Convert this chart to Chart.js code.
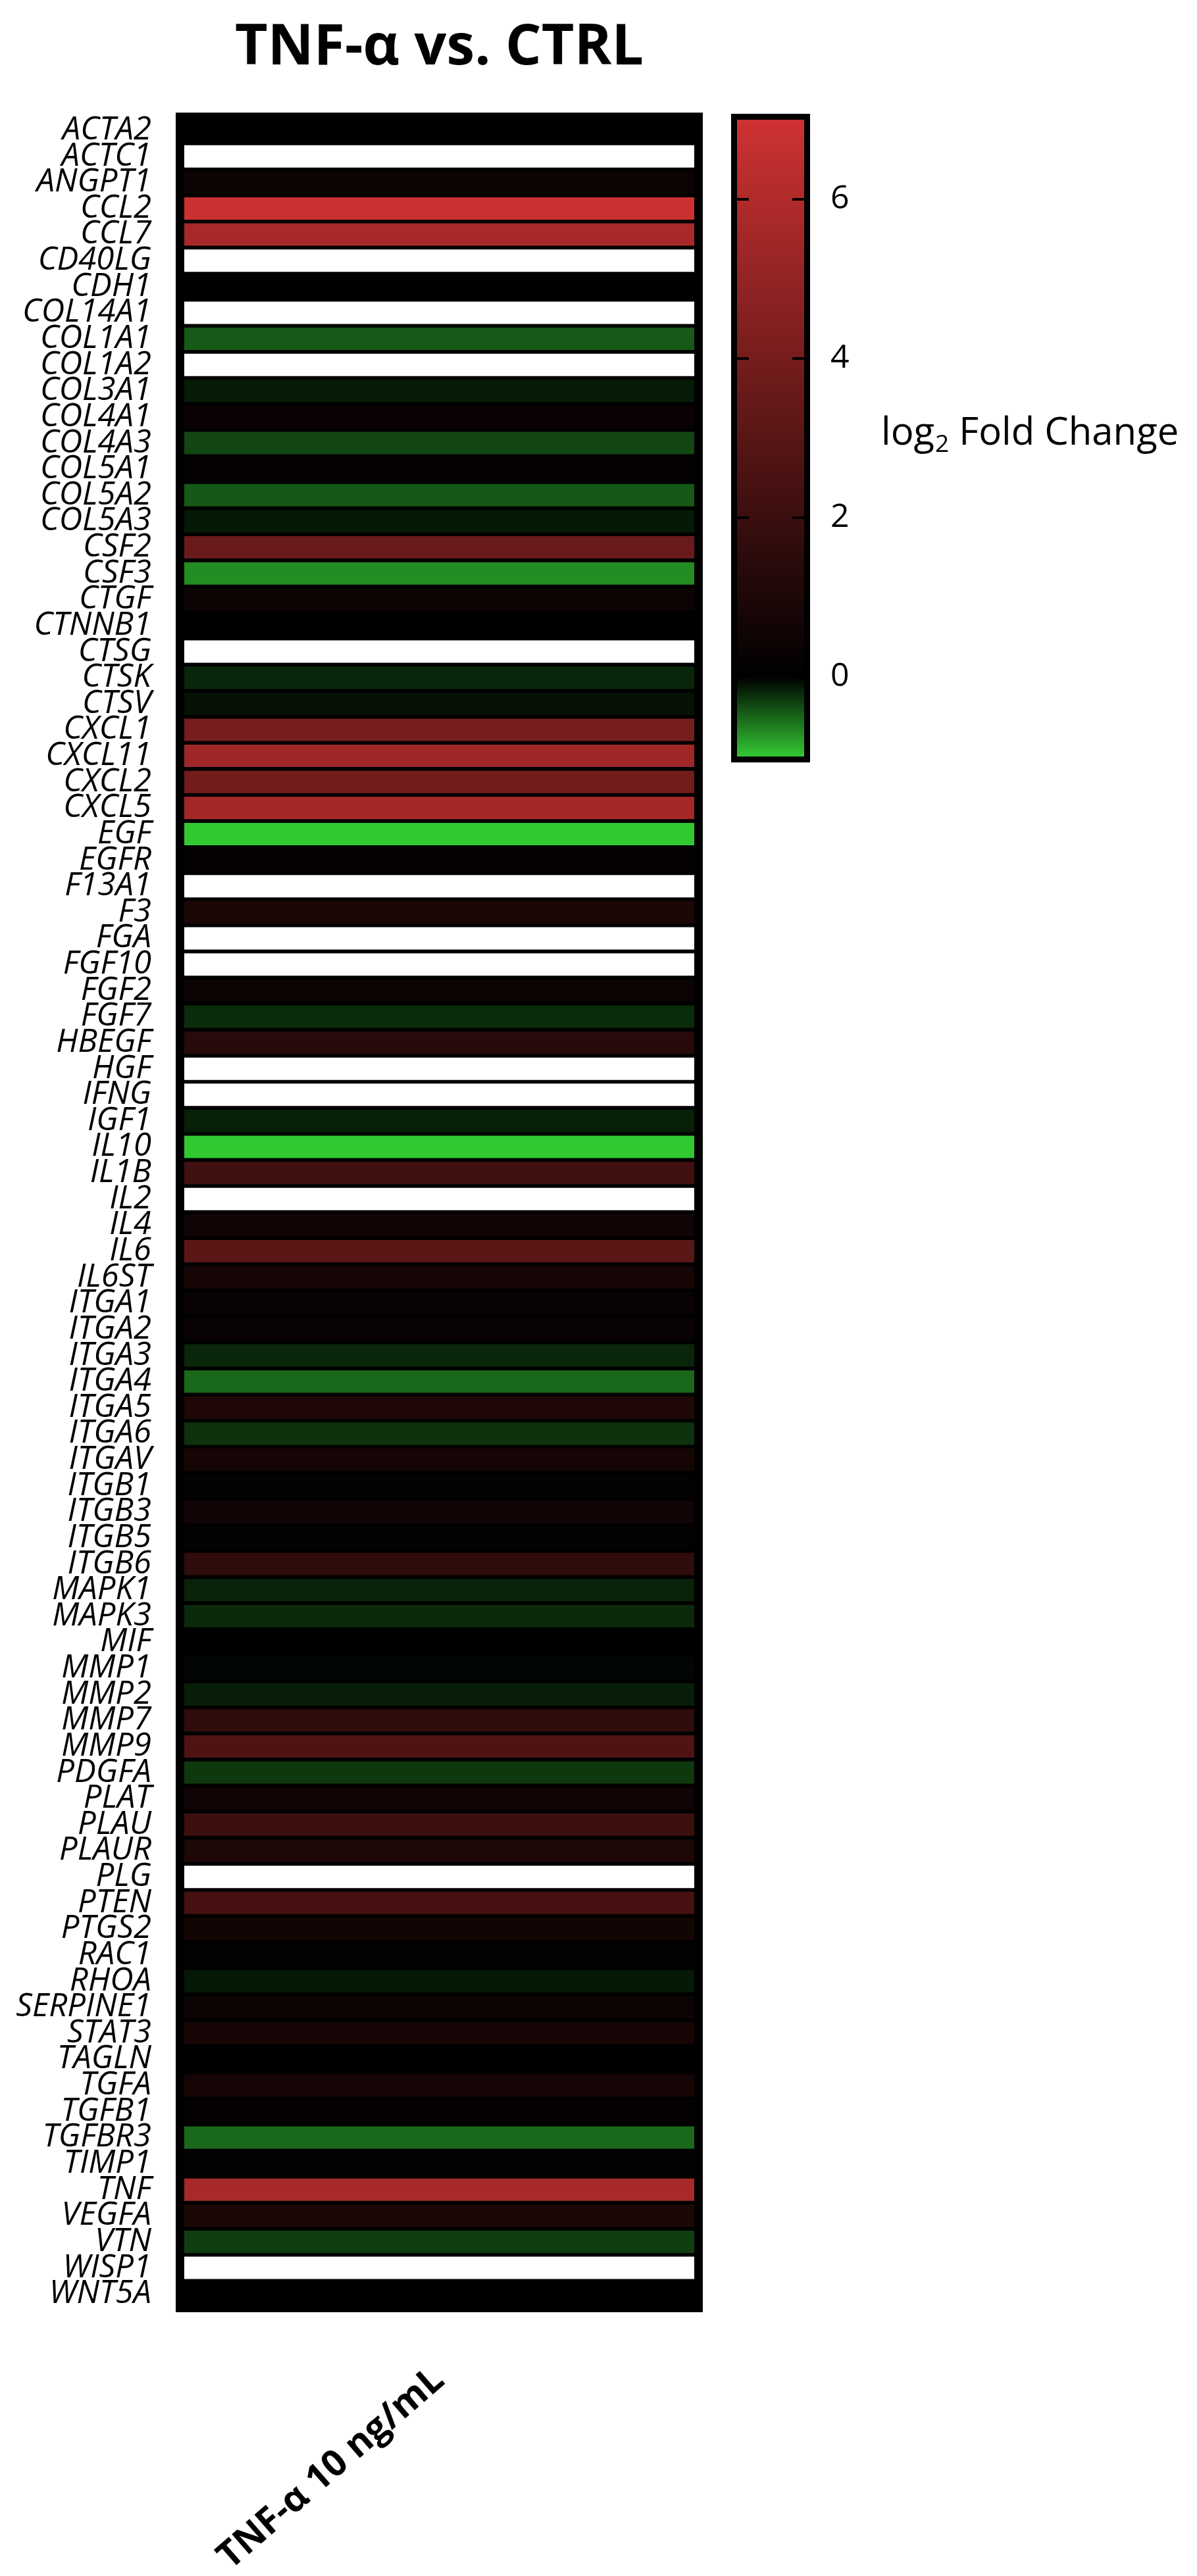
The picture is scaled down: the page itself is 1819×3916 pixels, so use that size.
<!DOCTYPE html>
<html>
<head>
<meta charset="utf-8">
<script src="https://cdn.jsdelivr.net/npm/chart.js@4.4.1/dist/chart.umd.min.js"></script>
<style>
  html, body { margin:0; padding:0; background:#fff; }
  #wrap { width:1819px; height:3916px; }
</style>
</head>
<body>
<div id="wrap"><canvas id="heat" width="1819" height="3916"></canvas></div>
<script>
// gene rows, top to bottom
const GENES = ['ACTA2','ACTC1','ANGPT1','CCL2','CCL7','CD40LG','CDH1','COL14A1','COL1A1','COL1A2',
  'COL3A1','COL4A1','COL4A3','COL5A1','COL5A2','COL5A3','CSF2','CSF3','CTGF','CTNNB1',
  'CTSG','CTSK','CTSV','CXCL1','CXCL11','CXCL2','CXCL5','EGF','EGFR','F13A1',
  'F3','FGA','FGF10','FGF2','FGF7','HBEGF','HGF','IFNG','IGF1','IL10',
  'IL1B','IL2','IL4','IL6','IL6ST','ITGA1','ITGA2','ITGA3','ITGA4','ITGA5',
  'ITGA6','ITGAV','ITGB1','ITGB3','ITGB5','ITGB6','MAPK1','MAPK3','MIF','MMP1',
  'MMP2','MMP7','MMP9','PDGFA','PLAT','PLAU','PLAUR','PLG','PTEN','PTGS2',
  'RAC1','RHOA','SERPINE1','STAT3','TAGLN','TGFA','TGFB1','TGFBR3','TIMP1','TNF',
  'VEGFA','VTN','WISP1','WNT5A'];

// log2 fold change, TNF-a 10 ng/mL vs control (null = not detected, drawn white)
const LOG2FC = [0.05, null, 0.48, 6.9, 5.7, null, 0.0, null, -0.45, null,
  -0.14, 0.34, -0.35, 0.2, -0.44, -0.12, 3.6, -0.7, 0.48, 0.05,
  null, -0.19, -0.09, 4.0, 5.4, 3.9, 5.6, -1.0, 0.17, null,
  0.96, null, null, 0.4, -0.22, 1.37, null, null, -0.16, -1.0,
  2.2, null, 0.55, 3.1, 0.75, 0.27, 0.27, -0.19, -0.52, 1.1,
  -0.25, 0.75, 0.14, 0.6, 0.1, 1.64, -0.17, -0.21, 0.05, -0.03,
  -0.15, 1.64, 2.7, -0.28, 0.55, 2.1, 1.0, null, 2.4, 0.68,
  0.1, -0.12, 0.4, 0.75, 0.03, 0.75, 0.2, -0.52, 0.1, 5.7,
  0.96, -0.31, null, 0.05];

const COLUMNS = ['TNF-\u03b1 10 ng/mL'];
const CBAR_TICKS = [0, 2, 4, 6];
const CBAR_MIN = -1;
const CBAR_MAX = 7;

const RED = [206, 50, 50];
const GREEN = [50, 200, 50];

function colorFor(v){
  if(v === null) return '#ffffff';
  let c, t;
  if(v >= 0){ t = Math.min(v / CBAR_MAX, 1); c = RED; }
  else { t = Math.min(v / CBAR_MIN, 1); c = GREEN; }
  return `rgb(${Math.round(c[0]*t)},${Math.round(c[1]*t)},${Math.round(c[2]*t)})`;
}

// black frame behind the heatmap column
const framePlugin = {
  id:'frame',
  beforeDatasetsDraw(chart){
    const a = chart.chartArea, ctx = chart.ctx;
    ctx.save();
    ctx.fillStyle = '#000';
    ctx.fillRect(a.left - 13, a.top - 7, (a.right - a.left) + 26, (a.bottom - a.top) + 15);
    ctx.restore();
  }
};

// colour key on the right
const colorbarPlugin = {
  id:'colorbar',
  afterDraw(chart){
    const ctx = chart.ctx;
    const x0 = 1120, x1 = 1222, yTop = 182, yBot = 1150;
    const perUnit = (yBot - yTop) / (CBAR_MAX - CBAR_MIN);
    const yOf = v => yTop + (CBAR_MAX - v) * perUnit;
    ctx.save();
    const g = ctx.createLinearGradient(0, yTop, 0, yBot);
    g.addColorStop(0, `rgb(${RED.join(',')})`);
    g.addColorStop((CBAR_MAX - 0) / (CBAR_MAX - CBAR_MIN), '#000');
    g.addColorStop(1, `rgb(${GREEN.join(',')})`);
    ctx.fillStyle = g;
    ctx.fillRect(x0, yTop, x1 - x0, yBot - yTop);
    // shadow + frame
    ctx.strokeStyle = '#9a9a9a';
    ctx.lineWidth = 4;
    ctx.strokeRect(x0 - 4, yTop - 4, x1 - x0 + 10, yBot - yTop + 10);
    ctx.strokeStyle = '#000';
    ctx.lineWidth = 9;
    ctx.strokeRect(x0 - 4.5, yTop - 4.5, x1 - x0 + 9, yBot - yTop + 9);
    // ticks
    ctx.lineWidth = 4;
    ctx.fillStyle = '#000';
    ctx.font = '50px "Open Sans"';
    ctx.textAlign = 'left';
    ctx.textBaseline = 'middle';
    CBAR_TICKS.forEach(t => {
      const y = yOf(t);
      ctx.beginPath();
      ctx.moveTo(x0, y); ctx.lineTo(x0 + 18, y);
      ctx.moveTo(x1 - 18, y); ctx.lineTo(x1, y);
      ctx.stroke();
      ctx.fillText(String(t), 1262, y);
    });
    // axis caption: log2 Fold Change
    const cy = 659;
    let x = 1339;
    ctx.font = '58px "Open Sans"';
    ctx.fillText('log', x, cy);
    x += ctx.measureText('log').width + 1;
    ctx.font = '37px "Open Sans"';
    ctx.fillText('2', x, cy + 17);
    x += ctx.measureText('2').width;
    ctx.font = '58px "Open Sans"';
    ctx.fillText(' Fold Change', x, cy);
    ctx.restore();
  }
};

new Chart(document.getElementById('heat'), {
  type:'bar',
  data:{
    labels: GENES,
    datasets:[{
      data: LOG2FC.map(() => [0, 1]),
      backgroundColor: LOG2FC.map(colorFor),
      borderWidth: 0,
      barPercentage: 0.858,
      categoryPercentage: 1
    }]
  },
  options:{
    indexAxis:'y',
    responsive:false,
    animation:false,
    devicePixelRatio:1,
    layout:{ padding:{ left:0, right:764, top:0, bottom:0 } },
    plugins:{
      legend:{ display:false },
      tooltip:{ enabled:false },
      title:{
        display:true,
        text:'TNF-\u03b1 vs. CTRL',
        fullSize:false,
        color:'#000',
        font:{ family:'"Open Sans"', size:86, weight:'bold' },
        padding:{ top:22, bottom:53 }
      }
    },
    scales:{
      x:{ type:'linear', min:0, max:1, display:false },
      x2:{
        type:'category',
        labels: COLUMNS,
        position:'bottom',
        offset:true,
        grid:{ display:false, drawTicks:false },
        border:{ display:false },
        ticks:{
          color:'#000',
          font:{ family:'"Open Sans"', size:56, weight:'bold' },
          minRotation:41, maxRotation:41,
          padding:78
        },
        afterFit(s){ s.height = 409; }
      },
      y:{
        type:'category',
        grid:{ display:false, drawTicks:false },
        border:{ display:false },
        ticks:{
          autoSkip:false,
          color:'#000',
          font:{ family:'"Open Sans"', size:49, style:'italic', lineHeight:1 },
          padding:50
        },
        afterFit(s){ s.width = 280; }
      }
    }
  },
  plugins:[framePlugin, colorbarPlugin]
});
</script>
</body>
</html>
